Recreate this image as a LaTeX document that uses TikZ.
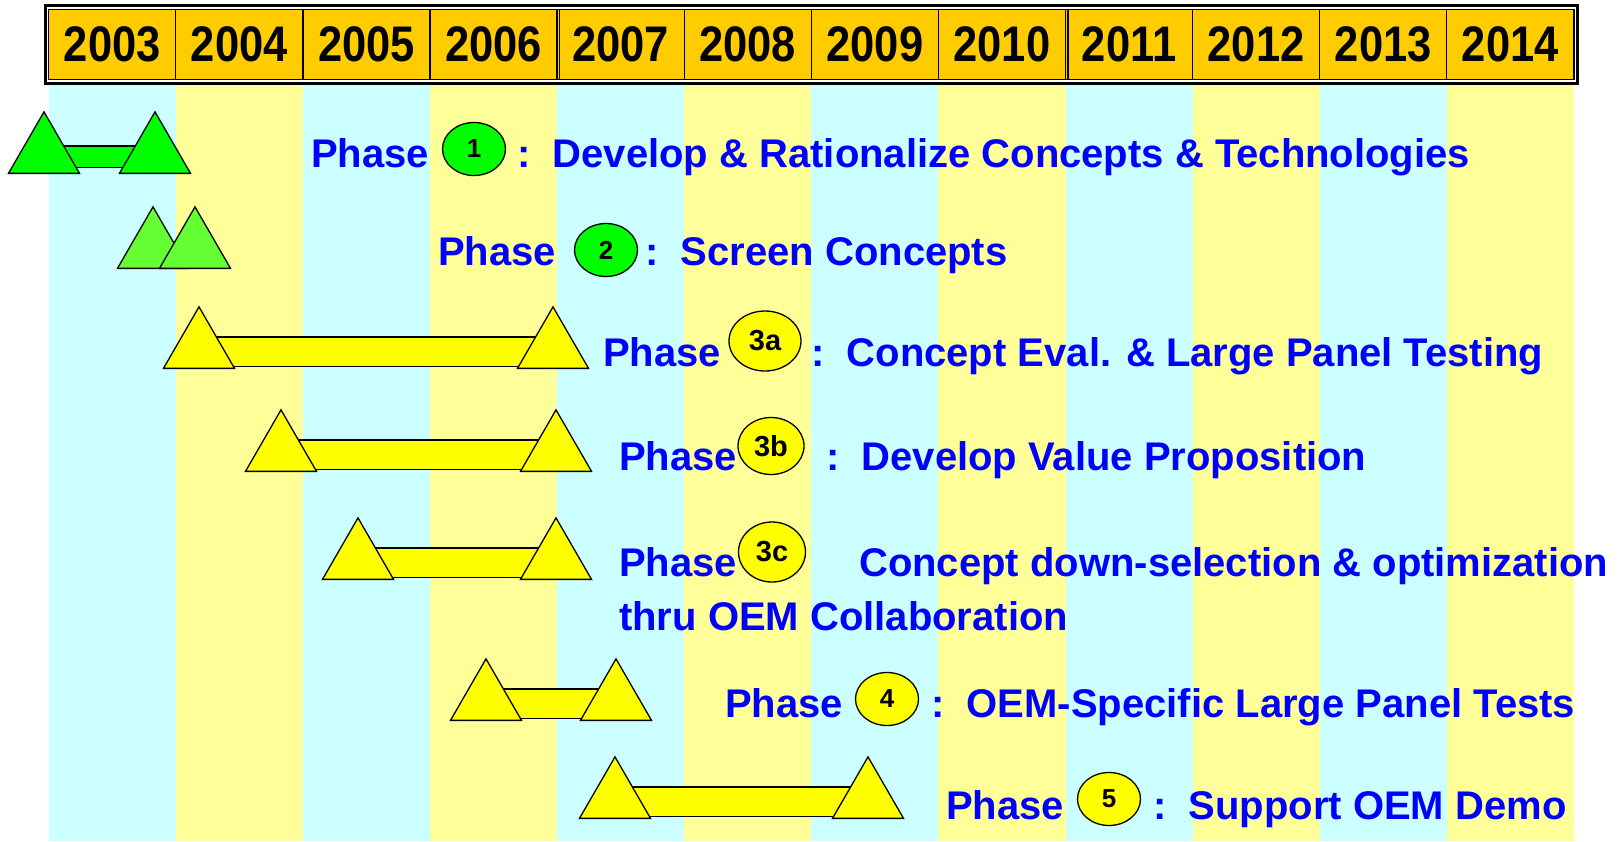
\documentclass[tikz,border=0pt]{standalone}
\usepackage{fontspec}
\setmainfont{Liberation Sans}
\newfontfamily\yearfont[FakeStretch=0.87]{Liberation Sans}
\usetikzlibrary{shapes.geometric, positioning}

\definecolor{hdr}{HTML}{FFCC00}
\definecolor{cyanband}{HTML}{CCFFFF}
\definecolor{yellowband}{HTML}{FFFF99}
\definecolor{mgreen}{HTML}{00FF00}
\definecolor{lgreen}{HTML}{66FF33}
\definecolor{myellow}{HTML}{FFFF00}
\definecolor{tblue}{HTML}{0000FF}

\pgfdeclarelayer{bands}
\pgfdeclarelayer{bars}
\pgfsetlayers{bands,bars,main}

\begin{document}
\begin{tikzpicture}[x=1pt, y=-1pt,
    yearcell/.style={rectangle, draw, fill=hdr, line width=1.3pt, minimum width=127.1pt, minimum height=70pt, inner sep=0pt, font=\yearfont\fontsize{50}{54}\selectfont\bfseries},
    tri/.style={regular polygon, regular polygon sides=3, minimum size=82pt, inner sep=0pt, draw, line width=1.3pt, anchor=side 2},
    bar/.style={double=myellow, double distance=28pt, line width=1.3pt},
    lbl/.style={text=tblue, font=\fontsize{40}{46}\selectfont\bfseries, inner sep=0pt, anchor=base west},
    num/.style={ellipse, draw, line width=1.3pt, inner sep=0pt, minimum width=63pt, minimum height=53pt, font=\fontsize{26}{28}\selectfont\bfseries},
    numw/.style={num, minimum width=70pt, minimum height=60pt, font=\fontsize{29}{32}\selectfont\bfseries}]
    \useasboundingbox (0,0) rectangle (1624,841);

    % Year bands
    \begin{pgfonlayer}{bands}
    \foreach \i in {0,2,...,10}
        \fill[cyanband] ({48.7+127.1*\i},82) rectangle +(127.1,759);
    \foreach \i in {1,3,...,11}
        \fill[yellowband] ({48.7+127.1*\i},82) rectangle +(127.1,759);
    \end{pgfonlayer}

    % Header
    \foreach \yr [count=\i from 0] in {2003,...,2014}
        \node[yearcell] (y\yr) at ({48.7+127.1*\i+63.55},44.5) {\yr};
    \draw[line width=3pt] ([xshift=-3pt,yshift=3pt]y2003.north west) rectangle ([xshift=3pt,yshift=-3pt]y2014.south east);
    \draw[line width=1.3pt] ([xshift=3pt]y2007.north west) -- ([xshift=3pt]y2007.south west);
    \draw[line width=1.3pt] ([xshift=3pt]y2011.north west) -- ([xshift=3pt]y2011.south west);

    % Milestones
    \node[tri, fill=mgreen] (p1a) at (44,174) {};
    \node[tri, fill=mgreen] (p1b) at (155,174) {};
    \node[tri, fill=lgreen] (p2a) at (153,269) {};
    \node[tri, fill=lgreen] (p2b) at (195,269) {};
    \node[tri, fill=myellow] (p3aa) at (199,369) {};
    \node[tri, fill=myellow] (p3ab) at (553,369) {};
    \node[tri, fill=myellow] (p3ba) at (281,472) {};
    \node[tri, fill=myellow] (p3bb) at (556,472) {};
    \node[tri, fill=myellow] (p3ca) at (358,580) {};
    \node[tri, fill=myellow] (p3cb) at (556,580) {};
    \node[tri, fill=myellow] (p4a) at (486,721) {};
    \node[tri, fill=myellow] (p4b) at (616,721) {};
    \node[tri, fill=myellow] (p5a) at (615,819) {};
    \node[tri, fill=myellow] (p5b) at (868,819) {};

    % Bars
    \begin{pgfonlayer}{bars}
    \draw[bar, double=mgreen, double distance=20pt] ([yshift=17.5pt]p1a.side 2) -- ([yshift=17.5pt]p1b.side 2);
    \draw[bar] ([yshift=17.5pt]p3aa.side 2) -- ([yshift=17.5pt]p3ab.side 2);
    \draw[bar] ([yshift=17.5pt]p3ba.side 2) -- ([yshift=17.5pt]p3bb.side 2);
    \draw[bar] ([yshift=17.5pt]p3ca.side 2) -- ([yshift=17.5pt]p3cb.side 2);
    \draw[bar] ([yshift=17.5pt]p4a.side 2) -- ([yshift=17.5pt]p4b.side 2);
    \draw[bar] ([yshift=17.5pt]p5a.side 2) -- ([yshift=17.5pt]p5b.side 2);
    \end{pgfonlayer}

    % Labels
    \node[lbl] (ph1) at (311,167) {Phase};
    \node[num, fill=mgreen] (c1) at (474,149) {1};
    \node[lbl] (t1) at (517,167) {:~~Develop \& Rationalize Concepts \& Technologies};

    \node[lbl] (ph2) at (438,265) {Phase};
    \node[num, fill=mgreen] (c2) at (606,250) {2};
    \node[lbl] (t2) at (645,265) {:~~Screen Concepts};

    \node[lbl] (ph3a) at (603,366) {Phase};
    \node[numw, fill=myellow, minimum width=72pt] (c3a) at (765,341) {3a};
    \node[lbl] (t3a) at (811,366) {:~~Concept Eval. \& Large Panel Testing};

    \node[lbl] (ph3b) at (619,470) {Phase};
    \node[numw, fill=myellow, minimum width=66pt, minimum height=57pt] (c3b) at (771,446) {3b};
    \node[lbl] (t3b) at (826,470) {:~~Develop Value Proposition};

    \node[lbl] (ph3c) at (619,576) {Phase};
    \node[numw, fill=myellow, minimum width=67pt] (c3c) at (772,552) {3c};
    \node[lbl] (t3c) at (859,576) {Concept down-selection \& optimization};
    \node[lbl] (t3c2) at ([yshift=-54pt]ph3c.base west) {thru OEM Collaboration};

    \node[lbl] (ph4) at (725,717) {Phase};
    \node[num, fill=myellow] (c4) at (887,699) {4};
    \node[lbl] (t4) at (931,717) {:~~OEM-Specific Large Panel Tests};

    \node[lbl] (ph5) at (946,819) {Phase};
    \node[num, fill=myellow] (c5) at (1109,799) {5};
    \node[lbl] (t5) at (1153,819) {:~~Support OEM Demo};

\end{tikzpicture}
\end{document}
